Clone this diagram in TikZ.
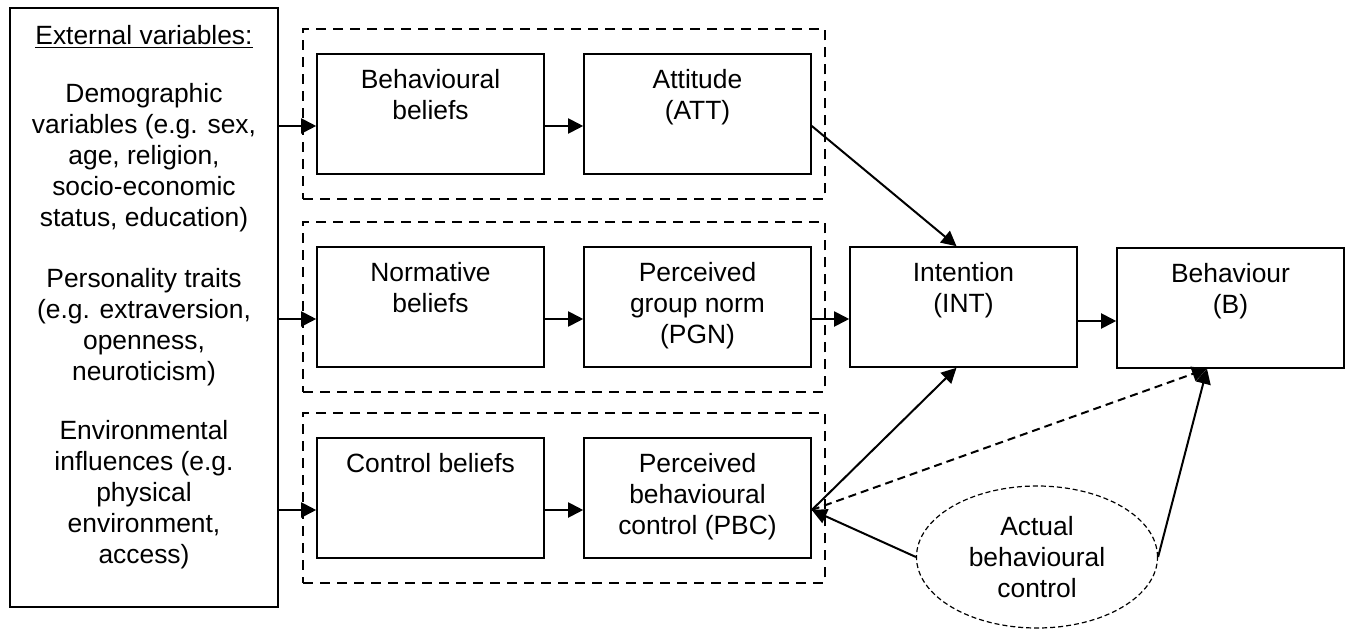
\documentclass[tikz,border=0pt]{standalone}
\usepackage{fontspec}
\setmainfont{Liberation Sans}
\usetikzlibrary{arrows.meta,fit,shapes.geometric}
\tikzset{
	box/.style={draw, line width=0.8pt, minimum width=113.5pt, minimum height=60pt, inner sep=0pt},
	intext/.style={anchor=north, align=center, inner sep=0pt, yshift=-8pt},
	group/.style={draw, line width=0.85pt, dash pattern=on 5pt off 3.5pt, inner xsep=6.5pt, inner ysep=12pt},
	arr/.style={-{Triangle[length=7.5pt,width=7.5pt]}, line width=1pt}
}

\begin{document}
\begin{tikzpicture}[x=0.5pt, y=-0.5pt, font=\fontsize{13.2}{15.5}\selectfont]
			%%%%% START %%%%%
			\useasboundingbox (0,0) rectangle (1350,631);

			% external variables
			\node[box, minimum width=134pt, minimum height=299.5pt] (ext) at (144,307.5) {};
			\node (exthead) at (144,37) {\underline{External variables:}};
			\node[align=center] (demo) at (144,158) {Demographic\\variables (e.g. sex,\\age, religion,\\socio-economic\\status, education)};
			\node[align=center] (pers) at (144,327) {Personality traits\\(e.g. extraversion,\\openness,\\neuroticism)};
			\node[align=center] (envi) at (144,495) {Environmental\\influences (e.g.\\physical\\environment,\\access)};

			% beliefs and their outcomes
			\node[box, label={[intext]north:{Behavioural\\beliefs}}] (bb) at (430.5,114) {};
			\node[box, label={[intext]north:{Attitude\\(ATT)}}] (att) at (697.5,114) {};
			\node[box, label={[intext]north:{Normative\\beliefs}}] (nb) at (430.5,307) {};
			\node[box, label={[intext]north:{Perceived\\group norm\\(PGN)}}] (pgn) at (697.5,307) {};
			\node[box, label={[intext]north:{Control beliefs}}] (cb) at (430.5,498) {};
			\node[box, label={[intext]north:{Perceived\\behavioural\\control (PBC)}}] (pbc) at (697.5,498) {};

			\node[group, fit=(bb)(att)] (g1) {};
			\node[group, fit=(nb)(pgn)] (g2) {};
			\node[group, fit=(cb)(pbc)] (g3) {};

			\node[box, label={[intext]north:{Intention\\(INT)}}] (int) at (963.5,307) {};
			\node[box, label={[intext]north:{Behaviour\\(B)}}] (beh) at (1230.5,308) {};

			\node[ellipse, draw, line width=0.6pt, dash pattern=on 2.5pt off 1.5pt, minimum width=120.5pt, minimum height=71pt, inner sep=0pt, align=center] (act) at (1037,557) {Actual\\behavioural\\control};

			% connectors
			\draw[arr] ([yshift=-6pt]bb.west -| ext.east) -- ([yshift=-6pt]bb.west);
			\draw[arr] ([yshift=-6pt]nb.west -| ext.east) -- ([yshift=-6pt]nb.west);
			\draw[arr] ([yshift=-6pt]cb.west -| ext.east) -- ([yshift=-6pt]cb.west);

			\draw[arr] ([yshift=-6pt]bb.east) -- ([yshift=-6pt]att.west);
			\draw[arr] ([yshift=-6pt]nb.east) -- ([yshift=-6pt]pgn.west);
			\draw[arr] ([yshift=-6pt]cb.east) -- ([yshift=-6pt]pbc.west);

			\draw[arr] ([yshift=-6pt]att.east) -- ([xshift=-3.5pt]int.north);
			\draw[arr] ([yshift=-6pt]pgn.east) -- ([yshift=-6pt]pgn.east -| int.west);
			\draw[arr] ([yshift=-6pt]pbc.east) -- ([xshift=-3.5pt]int.south);
			\draw[arr] ([yshift=-7pt]int.east) -- ([yshift=-7pt]int.east -| beh.west);

			\draw[arr, dash pattern=on 4pt off 2.5pt] ([yshift=-6pt]pbc.east) -- ([xshift=-11.75pt]beh.south);
			\draw[arr] (act.west) -- ([yshift=-6pt]pbc.east);
			\draw[arr] (act.east) -- ([xshift=-11.75pt]beh.south);
			%%%%% END %%%%%
\end{tikzpicture}
\end{document}
